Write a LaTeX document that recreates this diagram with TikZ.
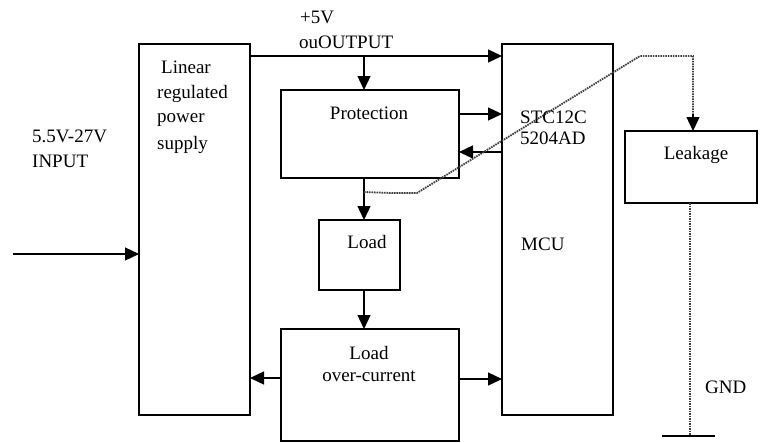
\documentclass[tikz,border=0pt]{standalone}
\usepackage{fontspec}
\setmainfont{Liberation Serif}
\usetikzlibrary{arrows.meta}
\begin{document}
\begin{tikzpicture}[x=1pt,y=-1pt,
  every node/.style={font=\fontsize{19}{22}\selectfont, inner sep=0pt},
  blk/.style={draw, line width=1.3pt},
  conn/.style={line width=1.3pt, -{Triangle[length=14pt,width=13pt]}},
  dotline/.style={line width=1.8pt, dash pattern=on 1.6pt off 0.9pt, color=black!75},
  txt/.style={anchor=west}]
\useasboundingbox (0,0) rectangle (760,442);
% blocks
\draw[blk] (139,44) rectangle (250,415);
\draw[blk] (281,90) rectangle (459,178);
\draw[blk] (319,220) rectangle (400,290);
\draw[blk] (281,329) rectangle (459,441);
\draw[blk] (502,44) rectangle (613,415);
\draw[blk] (625,131) rectangle (757,203);
% named points
\coordinate (inS) at (13,254);
\coordinate (inE) at (139,254);
\coordinate (topS) at (250,56);
\coordinate (topE) at (502,56);
\coordinate (dnS) at (364,56);
\coordinate (protT) at (364,90);
\coordinate (protB) at (364,178);
\coordinate (loadT) at (364,220);
\coordinate (loadB) at (364,290);
\coordinate (ocT) at (364,329);
\coordinate (p2mS) at (459,114);
\coordinate (p2mE) at (502,114);
\coordinate (m2pS) at (502,152);
\coordinate (m2pE) at (459,152);
\coordinate (ocL) at (281,378);
\coordinate (lrpsR) at (250,378);
\coordinate (ocR) at (459,379);
\coordinate (mcuL) at (502,379);
\coordinate (d1) at (364,192);
\coordinate (d2) at (392,193);
\coordinate (d3) at (417,193);
\coordinate (d4) at (640,56);
\coordinate (d5) at (693,56);
\coordinate (dA) at (693,116);
\coordinate (leakT) at (693,131);
\coordinate (leakB) at (690,203);
\coordinate (gnd) at (690,436);
\coordinate (gL) at (662,436);
\coordinate (gR) at (715,436);
% connectors
\draw[conn] (inS) -- (inE);
\draw[conn] (topS) -- (topE);
\draw[conn] (dnS) -- (protT);
\draw[conn] (protB) -- (loadT);
\draw[conn] (loadB) -- (ocT);
\draw[conn] (p2mS) -- (p2mE);
\draw[conn] (m2pS) -- (m2pE);
\draw[conn] (ocL) -- (lrpsR);
\draw[conn] (ocR) -- (mcuL);
\draw[dotline] (d1) -- (d2) -- (d3) -- (d4) -- (d5) -- (dA);
\draw[conn] ([yshift=2pt]dA) -- (leakT);
\draw[dotline] (leakB) -- (gnd);
\draw[line width=1.3pt] (gL) -- (gR);
% texts
\node[txt] (t5v) at (300,17) {+5V};
\node[txt] (tout) at (299,42) {ouOUTPUT};
\node[txt] (tl1) at (161,67) {Linear};
\node[txt] (tl2) at (157,94) {regulated};
\node[txt] (tl3) at (157,120) {power};
\node[txt] (tl4) at (157,145) {supply};
\node[txt] (tin1) at (32,136) {5.5V-27V};
\node[txt] (tin2) at (32,161) {INPUT};
\node (tprot) at (369,113) {Protection};
\node[txt] (tstc1) at (520,117) {STC12C};
\node[txt] (tstc2) at (520,138) {5204AD};
\node (tleak) at (696,155) {Leakage};
\node (tload) at (367,242) {Load};
\node[txt] (tmcu) at (521,244) {MCU};
\node (toc1) at (369,353) {Load};
\node (toc2) at (369,376) {over-current};
\node[txt] (tgnd) at (705,387) {GND};
\end{tikzpicture}
\end{document}
